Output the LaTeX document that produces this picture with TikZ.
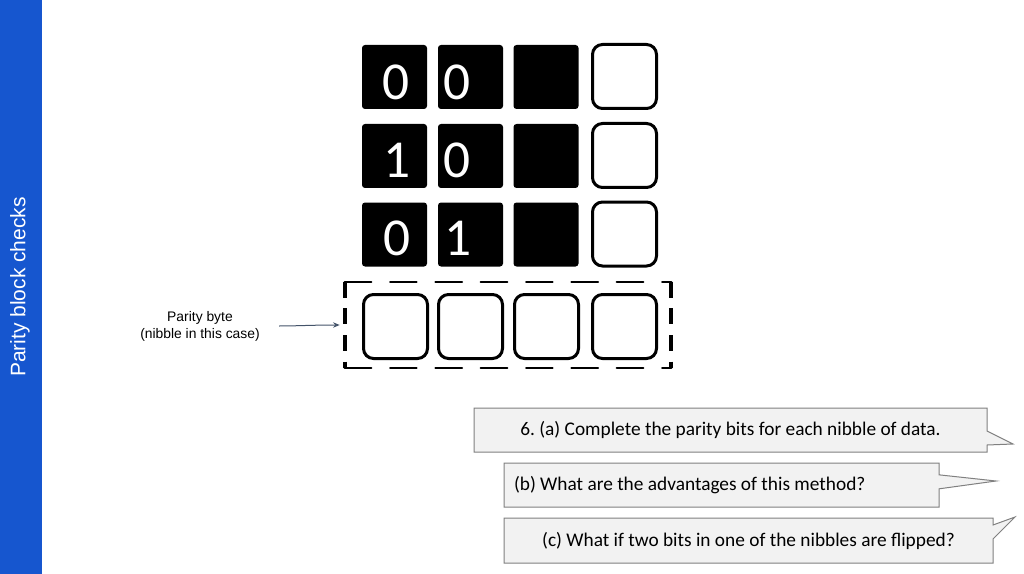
\documentclass[tikz,border=0pt]{standalone}
\usepackage{fontspec}
\usetikzlibrary{arrows.meta,shapes.callouts}
\newfontfamily\calibri{Carlito}
\newfontfamily\arial{Liberation Sans}
\frenchspacing

\definecolor{slideblue}{HTML}{1656CF}
\definecolor{notegray}{HTML}{44546A}
\definecolor{boxfill}{HTML}{F2F2F2}
\definecolor{boxline}{HTML}{808080}

\begin{document}
\begin{tikzpicture}[x=0.75pt, y=-0.75pt]
  \tikzstyle{d} = [rectangle, fill=black, rounded corners=2.25pt,
  minimum width=48.75pt, minimum height=48pt, inner sep=0pt];
  \tikzstyle{e} = [rectangle, draw=black, line width=2.25pt, rounded corners=7.5pt,
  minimum width=48pt, minimum height=48pt, inner sep=0pt];
  \tikzstyle{n} = [text=white, inner sep=0pt, font=\calibri\fontsize{40}{40}\selectfont];
  \tikzstyle{h} = [line width=1.5pt, dash pattern=on 20pt off 14pt, line cap=round];
  \tikzstyle{v} = [line width=3pt, dash pattern=on 12pt off 8pt];
  \tikzstyle{c} = [rectangle callout, fill=boxfill, draw=boxline, line width=0.75pt,
  callout pointer width=10.5pt, minimum height=33pt, inner xsep=7.5pt,
  font=\calibri\fontsize{14.5}{17}\selectfont];

  \useasboundingbox (0,0) rectangle (1024,574);
  \fill[white] (0,0) rectangle (1024,574);

  \fill[slideblue] (0,0) rectangle (42,574);
  \node[rotate=90, text=white, font=\arial\fontsize{15.75}{18}\selectfont] (title) at (20,287) {Parity block checks};

  \node[d] (r1a) at (394.5, 77) {};
  \node[d] (r1b) at (470.5, 77) {};
  \node[d] (r1c) at (546, 77) {};
  \node[e] (r1p) at (624.5, 76.5) {};

  \node[d] (r2a) at (394.5, 156) {};
  \node[d] (r2b) at (470.5, 156) {};
  \node[d] (r2c) at (546, 156) {};
  \node[e] (r2p) at (624.5, 155.5) {};

  \node[d] (r3a) at (394.5, 234.5) {};
  \node[d] (r3b) at (470.5, 234.5) {};
  \node[d] (r3c) at (546, 234.5) {};
  \node[e] (r3p) at (624.5, 234) {};

  \node[n] (b1a) at (396, 82) {0};
  \node[n] (b1b) at (457, 82) {0};
  \node[n] (b2a) at (397, 160) {1};
  \node[n] (b2b) at (457, 160) {0};
  \node[n] (b3a) at (397, 238) {0};
  \node[n] (b3b) at (458, 238) {1};

  \node[e] (pa) at (395.5, 326.5) {};
  \node[e] (pb) at (470.5, 326.5) {};
  \node[e] (pc) at (546.5, 326.5) {};
  \node[e] (pd) at (624.5, 326.5) {};

  \node[minimum width=244.5pt, minimum height=64.5pt, inner sep=0pt] (pbox) at (508, 325) {};
  \draw[h] (pbox.north west) -- (pbox.north east);
  \draw[h] (pbox.south west) -- (pbox.south east);
  \draw[v] (pbox.north west) -- (pbox.south west);
  \draw[v] (pbox.north east) -- (pbox.south east);

  \node[align=center, font=\arial\fontsize{10.4}{12.75}\selectfont] (pnote) at (200, 326) {Parity byte\\(nibble in this case)};
  \draw[-{Stealth[length=5pt,width=4pt]}, notegray, line width=0.75pt,
  shorten <=11pt, shorten >=3.75pt] (pnote.east) to[out=0, in=180] (pbox.west);

  \node[c, minimum width=384.75pt, callout absolute pointer={(1013,444)}] (qa) at (730.5, 430)
  {6. (a) Complete the parity bits for each nibble of data.};
  \node[c, text width=311.25pt, align=flush left, callout absolute pointer={(996,481)}] (qb) at (721.5, 485)
  {(b) What are the advantages of this method?};
  \node[c, minimum width=366.75pt, minimum height=33.75pt, callout absolute pointer={(1015,517)}] (qc) at (748.5, 540.5)
  {(c) What if two bits in one of the nibbles are flipped?};
\end{tikzpicture}
\end{document}
